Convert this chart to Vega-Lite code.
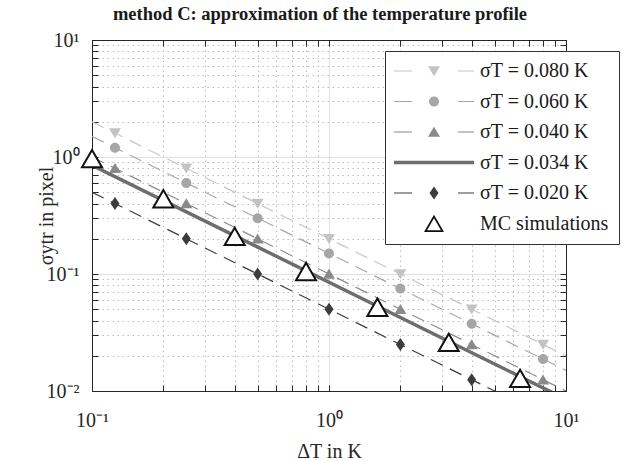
{
  "$schema": "https://vega.github.io/schema/vega-lite/v6.json",
  "width": 474,
  "height": 351,
  "autosize": "none",
  "padding": {"left": 92, "top": 40, "right": 72, "bottom": 70},
  "background": "white",
  "title": {"text": "method C: approximation of the temperature profile", "font": "Liberation Serif", "fontSize": 18.5, "fontWeight": "bold", "color": "#1a1a1a", "anchor": "middle", "offset": -8, "dx": -9, "baseline": "alphabetic"},
  "config": {"view": {"stroke": null}, "font": "Liberation Serif"},
  "datasets": {
    "dashed": [
      {"dT": 0.1, "sigma": 2.0, "series": "σT = 0.080 K"},
      {"dT": 10, "sigma": 0.02, "series": "σT = 0.080 K"},
      {"dT": 0.1, "sigma": 1.5, "series": "σT = 0.060 K"},
      {"dT": 10, "sigma": 0.015, "series": "σT = 0.060 K"},
      {"dT": 0.1, "sigma": 1.0, "series": "σT = 0.040 K"},
      {"dT": 10, "sigma": 0.01, "series": "σT = 0.040 K"},
      {"dT": 0.1, "sigma": 0.5, "series": "σT = 0.020 K"},
      {"dT": 10, "sigma": 0.005, "series": "σT = 0.020 K"}
    ],
    "solid": [
      {"dT": 0.1, "sigma": 0.85, "series": "σT = 0.034 K"},
      {"dT": 10, "sigma": 0.0085, "series": "σT = 0.034 K"}
    ],
    "markers": [
      {"dT": 0.125, "sigma": 1.6, "series": "σT = 0.080 K"},
      {"dT": 0.25, "sigma": 0.8, "series": "σT = 0.080 K"},
      {"dT": 0.5, "sigma": 0.4, "series": "σT = 0.080 K"},
      {"dT": 1, "sigma": 0.2, "series": "σT = 0.080 K"},
      {"dT": 2, "sigma": 0.1, "series": "σT = 0.080 K"},
      {"dT": 4, "sigma": 0.05, "series": "σT = 0.080 K"},
      {"dT": 8, "sigma": 0.025, "series": "σT = 0.080 K"},
      {"dT": 0.125, "sigma": 1.2, "series": "σT = 0.060 K"},
      {"dT": 0.25, "sigma": 0.6, "series": "σT = 0.060 K"},
      {"dT": 0.5, "sigma": 0.3, "series": "σT = 0.060 K"},
      {"dT": 1, "sigma": 0.15, "series": "σT = 0.060 K"},
      {"dT": 2, "sigma": 0.075, "series": "σT = 0.060 K"},
      {"dT": 4, "sigma": 0.0375, "series": "σT = 0.060 K"},
      {"dT": 8, "sigma": 0.01875, "series": "σT = 0.060 K"},
      {"dT": 0.125, "sigma": 0.8, "series": "σT = 0.040 K"},
      {"dT": 0.25, "sigma": 0.4, "series": "σT = 0.040 K"},
      {"dT": 0.5, "sigma": 0.2, "series": "σT = 0.040 K"},
      {"dT": 1, "sigma": 0.1, "series": "σT = 0.040 K"},
      {"dT": 2, "sigma": 0.05, "series": "σT = 0.040 K"},
      {"dT": 4, "sigma": 0.025, "series": "σT = 0.040 K"},
      {"dT": 8, "sigma": 0.0125, "series": "σT = 0.040 K"},
      {"dT": 0.125, "sigma": 0.4, "series": "σT = 0.020 K"},
      {"dT": 0.25, "sigma": 0.2, "series": "σT = 0.020 K"},
      {"dT": 0.5, "sigma": 0.1, "series": "σT = 0.020 K"},
      {"dT": 1, "sigma": 0.05, "series": "σT = 0.020 K"},
      {"dT": 2, "sigma": 0.025, "series": "σT = 0.020 K"},
      {"dT": 4, "sigma": 0.0125, "series": "σT = 0.020 K"}
    ],
    "mc": [
      {"dT": 0.1, "sigma": 0.97},
      {"dT": 0.2, "sigma": 0.44},
      {"dT": 0.4, "sigma": 0.21},
      {"dT": 0.8, "sigma": 0.105},
      {"dT": 1.6, "sigma": 0.052},
      {"dT": 3.2, "sigma": 0.026},
      {"dT": 6.4, "sigma": 0.0128}
    ],
    "legendrows": [
      {"series": "σT = 0.080 K"},
      {"series": "σT = 0.060 K"},
      {"series": "σT = 0.040 K"},
      {"series": "σT = 0.034 K"},
      {"series": "σT = 0.020 K"},
      {"series": "MC simulations"}
    ]
  },
  "layer": [
    {
      "data": {"name": "dashed"},
      "mark": {"type": "line", "clip": true, "strokeWidth": 1.2, "strokeDash": [13, 8]},
      "encoding": {
        "x": {"field": "dT", "type": "quantitative", "scale": {"type": "log", "domain": [0.1, 10], "nice": false},
          "axis": {"orient": "bottom", "values": [0.1, 1, 10], "labelExpr": "datum.value < 0.5 ? '10⁻¹' : datum.value < 5 ? '10⁰' : '10¹'", "ticks": false, "grid": true, "gridColor": "#e0e0e0", "gridWidth": 1, "domain": true, "domainColor": "#262626", "domainWidth": 1, "labelFont": "Liberation Serif", "labelFontSize": 20, "labelColor": "#262626", "labelPadding": 19, "labelFlush": false, "labelOverlap": false, "title": "ΔT in K", "titleFont": "Liberation Serif", "titleFontSize": 20, "titleFontWeight": "normal", "titleColor": "#262626", "titlePadding": 11}},
        "y": {"field": "sigma", "type": "quantitative", "scale": {"type": "log", "domain": [0.01, 10], "nice": false},
          "axis": {"orient": "left", "values": [0.01, 0.1, 1, 10], "labelExpr": "datum.value < 0.05 ? '10⁻²' : datum.value < 0.5 ? '10⁻¹' : datum.value < 5 ? '10⁰' : '10¹'", "ticks": false, "grid": true, "gridColor": "#e0e0e0", "gridWidth": 1, "domain": true, "domainColor": "#262626", "domainWidth": 1, "labelFont": "Liberation Serif", "labelFontSize": 20, "labelColor": "#262626", "labelPadding": 13, "labelFlush": false, "labelOverlap": false, "title": "σytr in pixel", "titleFont": "Liberation Serif", "titleFontSize": 20, "titleFontWeight": "normal", "titleColor": "#262626", "titlePadding": -10}},
        "color": {"field": "series", "type": "nominal", "scale": {"domain": ["σT = 0.080 K", "σT = 0.060 K", "σT = 0.040 K", "σT = 0.020 K"], "range": ["#c6c6c6", "#a8a8a8", "#8c8c8c", "#3c3c3c"]}, "legend": null}
      }
    },
    {
      "data": {"name": "solid"},
      "mark": {"type": "line", "clip": true, "strokeWidth": 3.5, "color": "#6e6e6e"},
      "encoding": {
        "x": {"field": "dT", "type": "quantitative",
          "axis": {"orient": "bottom", "values": [0.2, 0.3, 0.4, 0.5, 0.6, 0.7, 0.8, 0.9, 2, 3, 4, 5, 6, 7, 8, 9], "labels": false, "ticks": false, "domain": false, "grid": true, "gridColor": "#bcbcbc", "gridDash": [1.5, 3.5], "gridWidth": 1, "title": null}},
        "y": {"field": "sigma", "type": "quantitative",
          "axis": {"orient": "left", "values": [0.02, 0.03, 0.04, 0.05, 0.06, 0.07, 0.08, 0.09, 0.2, 0.3, 0.4, 0.5, 0.6, 0.7, 0.8, 0.9, 2, 3, 4, 5, 6, 7, 8, 9], "labels": false, "ticks": false, "domain": false, "grid": true, "gridColor": "#bcbcbc", "gridDash": [1.5, 3.5], "gridWidth": 1, "title": null}}
      }
    },
    {
      "data": {"name": "markers"},
      "mark": {"type": "point", "filled": true, "size": 100, "opacity": 1},
      "encoding": {
        "x": {"field": "dT", "type": "quantitative",
          "axis": {"orient": "bottom", "values": [0.1, 0.2, 0.3, 0.4, 0.5, 0.6, 0.7, 0.8, 0.9, 1, 2, 3, 4, 5, 6, 7, 8, 9, 10], "labels": false, "ticks": true, "tickSize": -6, "tickColor": "#262626", "tickWidth": 1, "domain": false, "grid": false, "title": null}},
        "y": {"field": "sigma", "type": "quantitative",
          "axis": {"orient": "left", "values": [0.01, 0.02, 0.03, 0.04, 0.05, 0.06, 0.07, 0.08, 0.09, 0.1, 0.2, 0.3, 0.4, 0.5, 0.6, 0.7, 0.8, 0.9, 1, 2, 3, 4, 5, 6, 7, 8, 9, 10], "labels": false, "ticks": true, "tickSize": -6, "tickColor": "#262626", "tickWidth": 1, "domain": false, "grid": false, "title": null}},
        "color": {"field": "series", "type": "nominal", "scale": {"domain": ["σT = 0.080 K", "σT = 0.060 K", "σT = 0.040 K", "σT = 0.020 K"], "range": ["#c3c3c3", "#a6a6a6", "#8a8a8a", "#3c3c3c"]}, "legend": null},
        "shape": {"field": "series", "type": "nominal", "scale": {"domain": ["σT = 0.080 K", "σT = 0.060 K", "σT = 0.040 K", "σT = 0.020 K"], "range": ["M-1.2,-0.95 L1.2,-0.95 L0,1.05 Z", "M-1,0 A1,1 0 1,0 1,0 A1,1 0 1,0 -1,0 Z", "M-1.2,0.95 L1.2,0.95 L0,-1.05 Z", "M0,-1.3 L0.9,0 L0,1.3 L-0.9,0 Z"]}, "legend": null}
      }
    },
    {
      "data": {"name": "mc"},
      "mark": {"type": "point", "shape": "triangle-up", "size": 400, "fill": "white", "stroke": "#111111", "strokeWidth": 2, "opacity": 1, "filled": false},
      "encoding": {
        "x": {"field": "dT", "type": "quantitative",
          "axis": {"orient": "top", "values": [0.1, 0.2, 0.3, 0.4, 0.5, 0.6, 0.7, 0.8, 0.9, 1, 2, 3, 4, 5, 6, 7, 8, 9, 10], "labels": false, "ticks": true, "tickSize": -6, "tickColor": "#262626", "tickWidth": 1, "domain": true, "domainColor": "#262626", "domainWidth": 1, "grid": false, "title": null}},
        "y": {"field": "sigma", "type": "quantitative",
          "axis": {"orient": "right", "values": [0.01, 0.02, 0.03, 0.04, 0.05, 0.06, 0.07, 0.08, 0.09, 0.1, 0.2, 0.3, 0.4, 0.5, 0.6, 0.7, 0.8, 0.9, 1, 2, 3, 4, 5, 6, 7, 8, 9, 10], "labels": false, "ticks": true, "tickSize": -6, "tickColor": "#262626", "tickWidth": 1, "domain": true, "domainColor": "#262626", "domainWidth": 1, "grid": false, "title": null}}
      }
    },
    {
      "data": {"name": "legendrows"},
      "mark": {"type": "point", "size": 0, "strokeWidth": 0, "filled": true},
      "encoding": {
        "color": {"field": "series", "type": "nominal",
          "scale": {"domain": ["σT = 0.080 K", "σT = 0.060 K", "σT = 0.040 K", "σT = 0.034 K", "σT = 0.020 K", "MC simulations"], "range": ["#c3c3c3", "#a6a6a6", "#8a8a8a", "#6e6e6e", "#3c3c3c", "#111111"]},
          "legend": {"title": null, "orient": "none", "legendX": 293, "legendY": 11, "strokeColor": "#333333", "fillColor": "white", "padding": 10, "symbolOffset": 29, "labelOffset": 36, "labelFont": "Liberation Serif", "labelFontSize": 20, "labelColor": "#1a1a1a", "rowPadding": 10.5, "labelLimit": 300, "symbolStrokeWidth": 0, "symbolSize": 100, "symbolOpacity": 1}},
        "shape": {"field": "series", "type": "nominal",
          "scale": {"domain": ["σT = 0.080 K", "σT = 0.060 K", "σT = 0.040 K", "σT = 0.034 K", "σT = 0.020 K", "MC simulations"], "range": [
            "M-8,-0.12 L-4.4,-0.12 L-4.4,0.12 L-8,0.12 Z M4.8,-0.12 L8,-0.12 L8,0.12 L4.8,0.12 Z M-1.2,-0.95 L1.2,-0.95 L0,1.05 Z",
            "M-8,-0.12 L-4.4,-0.12 L-4.4,0.12 L-8,0.12 Z M4.8,-0.12 L8,-0.12 L8,0.12 L4.8,0.12 Z M-1,0 A1,1 0 1,0 1,0 A1,1 0 1,0 -1,0 Z",
            "M-8,-0.12 L-4.4,-0.12 L-4.4,0.12 L-8,0.12 Z M4.8,-0.12 L8,-0.12 L8,0.12 L4.8,0.12 Z M-1.2,0.95 L1.2,0.95 L0,-1.05 Z",
            "M-8,-0.35 L8,-0.35 L8,0.35 L-8,0.35 Z",
            "M-8,-0.12 L-4.4,-0.12 L-4.4,0.12 L-8,0.12 Z M4.8,-0.12 L8,-0.12 L8,0.12 L4.8,0.12 Z M0,-1.3 L0.9,0 L0,1.3 L-0.9,0 Z",
            "M0,-1.75 L2,1.7 L-2,1.7 Z M0,-1.05 L-1.39,1.35 L1.39,1.35 Z"]},
          "legend": {"title": null, "orient": "none", "legendX": 293, "legendY": 11, "strokeColor": "#333333", "fillColor": "white", "padding": 10, "symbolOffset": 29, "labelOffset": 36, "labelFont": "Liberation Serif", "labelFontSize": 20, "labelColor": "#1a1a1a", "rowPadding": 10.5, "labelLimit": 300, "symbolStrokeWidth": 0, "symbolSize": 100, "symbolOpacity": 1}}
      }
    }
  ],
  "resolve": {
    "axis": {"x": "independent", "y": "independent"},
    "scale": {"color": "independent", "shape": "independent", "fill": "independent", "stroke": "independent"}
  }
}
